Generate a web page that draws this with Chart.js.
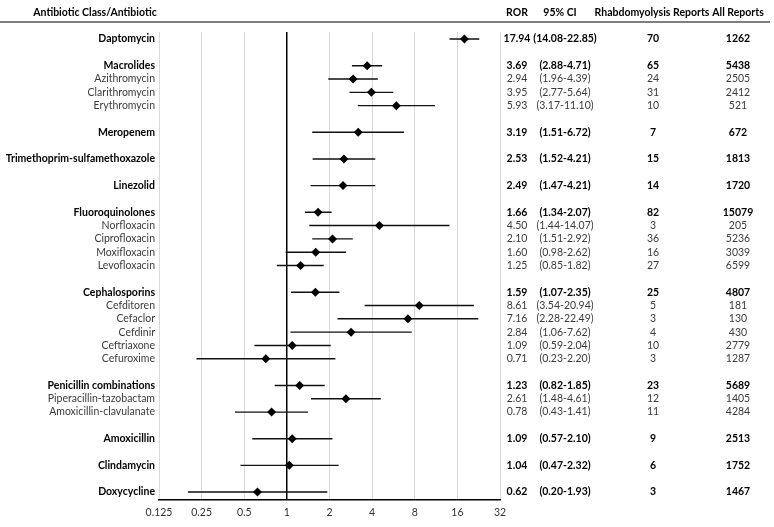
<!DOCTYPE html>
<html>
<head>
<meta charset="utf-8">
<script src="https://cdn.jsdelivr.net/npm/chart.js@4.4.0/dist/chart.umd.min.js"></script>
<style>
  html, body { margin: 0; padding: 0; background: #fff; }
  #wrap { width: 774px; height: 527px; position: relative; }
</style>
</head>
<body>
<div id="wrap"><canvas id="forest"></canvas></div>
<script>
// Forest plot data
const drugs = [
  "Daptomycin", "Macrolides", "Azithromycin", "Clarithromycin", "Erythromycin",
  "Meropenem", "Trimethoprim-sulfamethoxazole", "Linezolid",
  "Fluoroquinolones", "Norfloxacin", "Ciprofloxacin", "Moxifloxacin", "Levofloxacin",
  "Cephalosporins", "Cefditoren", "Cefaclor", "Cefdinir", "Ceftriaxone", "Cefuroxime",
  "Penicillin combinations", "Piperacillin-tazobactam", "Amoxicillin-clavulanate",
  "Amoxicillin", "Clindamycin", "Doxycycline"
];
const isClass = [
  true, true, false, false, false,
  true, true, true,
  true, false, false, false, false,
  true, false, false, false, false, false,
  true, false, false,
  true, true, true
];
const ror = [17.94, 3.69, 2.94, 3.95, 5.93, 3.19, 2.53, 2.49, 1.66, 4.50, 2.10, 1.60, 1.25,
  1.59, 8.61, 7.16, 2.84, 1.09, 0.71, 1.23, 2.61, 0.78, 1.09, 1.04, 0.62];
const ciLow = [14.08, 2.88, 1.96, 2.77, 3.17, 1.51, 1.52, 1.47, 1.34, 1.44, 1.51, 0.98, 0.85,
  1.07, 3.54, 2.28, 1.06, 0.59, 0.23, 0.82, 1.48, 0.43, 0.57, 0.47, 0.20];
const ciHigh = [22.85, 4.71, 4.39, 5.64, 11.10, 6.72, 4.21, 4.21, 2.07, 14.07, 2.92, 2.62, 1.82,
  2.35, 20.94, 22.49, 7.62, 2.04, 2.20, 1.85, 4.61, 1.41, 2.10, 2.32, 1.93];
const rhabdoReports = [70, 65, 24, 31, 10, 7, 15, 14, 82, 3, 36, 16, 27,
  25, 5, 3, 4, 10, 3, 23, 12, 11, 9, 6, 3];
const allReports = [1262, 5438, 2505, 2412, 521, 672, 1813, 1720, 15079, 205, 5236, 3039, 6599,
  4807, 181, 130, 430, 2779, 1287, 5689, 1405, 4284, 2513, 1752, 1467];
const xTicks = [0.125, 0.25, 0.5, 1, 2, 4, 8, 16, 32];

const FONT = "Lato, 'Open Sans', sans-serif";
const FONT_SIZE = 10.5;
const BOLD_COLOR = "#000";
const NORMAL_COLOR = "#3b3b3b";

// a blank row goes in front of every class heading except the first
const rows = [];
let r = -1;
drugs.forEach((d, i) => {
  r += (isClass[i] && i > 0) ? 2 : 1;
  rows.push(r);
});
const rowLabel = {};
rows.forEach((row, i) => { rowLabel[row] = i; });

const pointData = drugs.map((d, i) => ({ x: ror[i], y: rows[i] }));
const ciData = [];
drugs.forEach((d, i) => {
  ciData.push({ x: ciLow[i], y: rows[i] });
  ciData.push({ x: ciHigh[i], y: rows[i] });
  ciData.push({ x: null, y: null }); // gap between intervals
});

// header + right-hand table columns
const tablePlugin = {
  id: "tableColumns",
  afterDraw(chart) {
    const ctx = chart.ctx;
    const y = chart.scales.y;
    ctx.save();
    ctx.textBaseline = "middle";
    ctx.textAlign = "center";
    ctx.fillStyle = "#000";
    ctx.font = "bold " + FONT_SIZE + "px " + FONT;
    ctx.fillText("Antibiotic Class/Antibiotic", 95, 13);
    ctx.fillText("ROR", 517, 13);
    ctx.fillText("95% CI", 560, 13);
    ctx.fillText("Rhabdomyolysis Reports", 652, 13);
    ctx.fillText("All Reports", 738, 13);

    ctx.strokeStyle = "#7f7f7f";
    ctx.lineWidth = 2;
    ctx.beginPath();
    ctx.moveTo(0, 22);
    ctx.lineTo(770, 22);
    ctx.stroke();

    drugs.forEach((d, i) => {
      const py = y.getPixelForValue(rows[i]);
      ctx.font = (isClass[i] ? "bold " : "") + FONT_SIZE + "px " + FONT;
      ctx.fillStyle = isClass[i] ? BOLD_COLOR : NORMAL_COLOR;
      ctx.fillText(ror[i].toFixed(2), 517, py);
      ctx.fillText("(" + ciLow[i].toFixed(2) + "-" + ciHigh[i].toFixed(2) + ")", 565, py);
      ctx.fillText(String(rhabdoReports[i]), 653, py);
      ctx.fillText(String(allReports[i]), 738, py);
    });
    ctx.restore();
  },
};

new Chart(document.getElementById("forest"), {
  type: "scatter",
  data: {
    datasets: [
      {
        label: "ROR",
        data: pointData,
        pointStyle: "rectRot",
        pointRadius: 4.5,
        pointHoverRadius: 4.5,
        backgroundColor: "#000",
        borderColor: "#000",
        borderWidth: 0,
      },
      {
        label: "95% CI",
        type: "line",
        data: ciData,
        showLine: true,
        spanGaps: false,
        pointRadius: 0,
        borderColor: "#111",
        borderWidth: 1.4,
        fill: false,
      },
    ],
  },
  options: {
    responsive: true,
    maintainAspectRatio: false,
    animation: false,
    layout: { padding: { top: 32, right: 274, left: 0, bottom: 0 } },
    plugins: {
      legend: { display: false },
      tooltip: { enabled: false },
    },
    scales: {
      x: {
        type: "logarithmic",
        min: 0.125,
        max: 32,
        afterBuildTicks: (scale) => {
          scale.ticks = xTicks.map((v) => ({ value: v }));
        },
        afterFit: (scale) => { scale.height = 27; },
        ticks: {
          callback: (v) => String(v),
          font: { family: FONT, size: FONT_SIZE },
          color: "#333",
          padding: 6,
          maxRotation: 0,
          autoSkip: false,
        },
        grid: {
          drawTicks: false,
          color: (c) => (c.tick && c.tick.value === 1 ? "#000" : "#d9d9d9"),
          lineWidth: (c) => (c.tick && c.tick.value === 1 ? 1.5 : 1),
        },
        border: { display: true, color: "#000", width: 1.5 },
      },
      y: {
        type: "linear",
        reverse: true,
        min: -0.53,
        max: 34.6,
        afterBuildTicks: (scale) => {
          scale.ticks = rows.map((v) => ({ value: v }));
        },
        afterFit: (scale) => { scale.width = 159; },
        ticks: {
          autoSkip: false,
          padding: 4,
          callback: (v) => (rowLabel[v] !== undefined ? drugs[rowLabel[v]] : ""),
          font: (c) => ({
            family: FONT,
            size: FONT_SIZE,
            weight: c.tick && isClass[rowLabel[c.tick.value]] ? "bold" : "normal",
          }),
          color: (c) => (c.tick && isClass[rowLabel[c.tick.value]] ? BOLD_COLOR : NORMAL_COLOR),
        },
        grid: { display: false, drawTicks: false },
        border: { display: false },
      },
    },
  },
  plugins: [tablePlugin],
});
</script>
</body>
</html>
